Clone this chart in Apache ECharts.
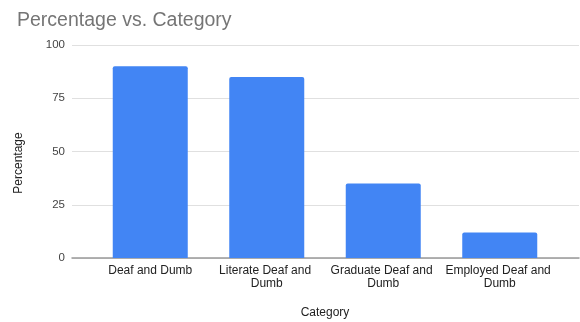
<!DOCTYPE html>
<html>
<head>
<meta charset="utf-8">
<script src="https://cdn.jsdelivr.net/npm/echarts@6/dist/echarts.min.js"></script>
<style>html,body{margin:0;padding:0;background:#fff}#c{width:580px;height:322px}</style>
</head>
<body>
<div id="c"></div>
<script>
const categories = ["Deaf and Dumb", "Literate Deaf and Dumb", "Graduate Deaf and Dumb", "Employed Deaf and Dumb"];
const percentages = [90, 85, 35, 12];
const yTicks = [0, 25, 50, 75, 100];

const font = "Arial, 'Liberation Sans', sans-serif";
const chart = echarts.init(document.getElementById('c'), null, {renderer: 'canvas'});
chart.setOption({
  animation: false,
  backgroundColor: '#fff',
  title: {
    text: 'Percentage vs. Category', left: 12, top: 6,
    textStyle: {fontFamily: font, fontSize: 19.5, fontWeight: 'normal', color: '#757575'}
  },
  grid: [
    {left: 72, right: 1, top: 45, bottom: 64},
    {left: 92, right: 22, top: 45, bottom: 64}
  ],
  xAxis: [
    {gridIndex: 0, type: 'value', min: 0, max: 1, axisLine: {show: true, onZero: false, lineStyle: {color: '#999', width: 1.5}},
     axisTick: {show: false}, axisLabel: {show: false}, splitLine: {show: false}},
    {gridIndex: 1, type: 'category', data: categories, axisLine: {show: false}, axisTick: {show: false},
     axisLabel: {fontFamily: font, fontSize: 12, color: '#222', margin: 6, width: 114, overflow: 'break', lineHeight: 13, interval: 0}}
  ],
  yAxis: [
    {gridIndex: 0, type: 'value', min: yTicks[0], max: yTicks[yTicks.length - 1], interval: 25,
     axisLine: {show: false}, axisTick: {show: false},
     axisLabel: {fontFamily: font, fontSize: 11.5, color: '#444', margin: 7},
     splitLine: {lineStyle: {color: '#e0e0e0', width: 1}}},
    {gridIndex: 1, type: 'value', min: 0, max: 100, show: false, splitLine: {show: false}}
  ],
  graphic: [
    {type: 'text', x: 325, y: 313, style: {text: 'Category', fontFamily: font, fontSize: 12, fill: '#222', textAlign: 'center', textVerticalAlign: 'middle'}},
    {type: 'text', x: 19, y: 163, rotation: Math.PI / 2, style: {text: 'Percentage', fontFamily: font, fontSize: 12, fill: '#222', textAlign: 'center', textVerticalAlign: 'middle'}}
  ],
  series: [{
    type: 'bar', xAxisIndex: 1, yAxisIndex: 1, data: percentages, barWidth: 75,
    itemStyle: {color: '#4285F4', borderRadius: [2, 2, 0, 0]}
  }]
});
</script>
</body>
</html>
